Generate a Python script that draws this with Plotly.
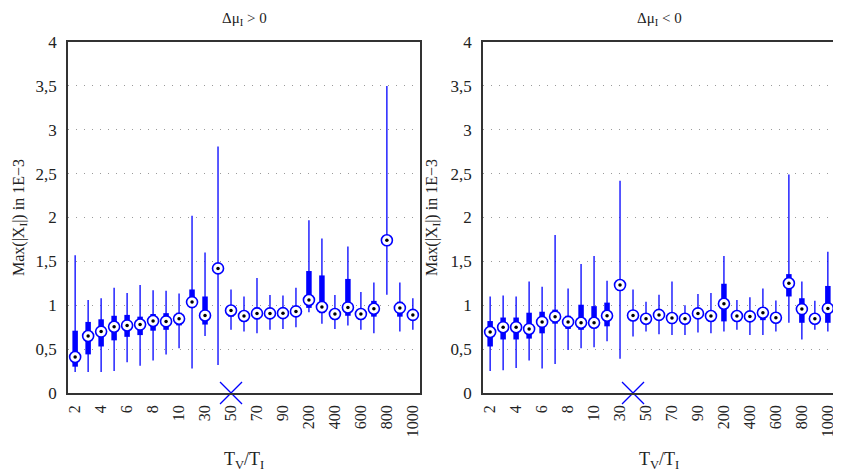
import plotly.graph_objects as go

categories = [2, 3, 4, 5, 6, 7, 8, 9, 10, 20, 30, 40, 50, 60, 70, 80, 90, 100,
              200, 300, 400, 500, 600, 700, 800, 900, 1000]
tick_labels = ["2", "4", "6", "8", "10", "30", "50", "70", "90", "200", "400", "600", "800", "1000"]

# Left panel (Δμ_I > 0)
pos_whisk_lo = [0.24, 0.24, 0.24, 0.25, 0.35, 0.31, 0.37, 0.44, 0.51, 0.28, 0.65, 0.32, 0.72, 0.70,
                0.68, 0.72, 0.73, 0.75, 0.92, 0.79, 0.73, 0.77, 0.72, 0.68, 1.12, 0.70, 0.72]
pos_q1 = [0.30, 0.44, 0.53, 0.60, 0.64, 0.66, 0.71, 0.72, 0.77, 0.99, 0.78, 1.39, 0.87, 0.85,
          0.84, 0.88, 0.88, 0.90, 0.97, 0.91, 0.87, 0.88, 0.87, 0.87, 1.69, 0.87, 0.86]
pos_median = [0.41, 0.65, 0.70, 0.755, 0.77, 0.78, 0.82, 0.816, 0.846, 1.036, 0.884, 1.42, 0.94, 0.877,
              0.907, 0.907, 0.91, 0.93, 1.06, 0.98, 0.90, 0.975, 0.90, 0.96, 1.74, 0.97, 0.89]
pos_q3 = [0.71, 0.81, 0.84, 0.88, 0.89, 0.87, 0.90, 0.91, 0.915, 1.18, 1.10, 1.45, 0.97, 0.90,
          0.975, 0.93, 0.94, 0.96, 1.39, 1.34, 0.93, 1.30, 0.93, 1.05, 1.78, 1.04, 0.92]
pos_whisk_hi = [1.57, 1.06, 1.08, 1.20, 1.14, 1.23, 1.17, 1.165, 1.135, 2.02, 1.60, 2.81, 1.18, 1.10,
                1.31, 1.116, 1.11, 1.20, 1.97, 1.76, 1.116, 1.67, 1.15, 1.26, 3.50, 1.26, 1.08]

# Right panel (Δμ_I < 0)
neg_whisk_lo = [0.25, 0.26, 0.285, 0.37, 0.28, 0.33, 0.49, 0.51, 0.52, 0.59, 0.39, 0.645, 0.70, 0.67,
                0.66, 0.66, 0.69, 0.68, 0.70, 0.72, 0.66, 0.66, 0.70, 0.80, 0.61, 0.72, 0.70]
neg_q1 = [0.53, 0.61, 0.61, 0.62, 0.68, 0.79, 0.73, 0.72, 0.74, 0.76, 1.20, 0.86, 0.82, 0.86,
          0.80, 0.82, 0.85, 0.85, 0.816, 0.85, 0.84, 0.83, 0.83, 1.10, 0.80, 0.82, 0.80]
neg_median = [0.695, 0.75, 0.75, 0.73, 0.81, 0.87, 0.81, 0.80, 0.80, 0.88, 1.23, 0.884, 0.846, 0.89,
              0.854, 0.846, 0.907, 0.877, 1.017, 0.877, 0.873, 0.915, 0.858, 1.25, 0.956, 0.846, 0.964]
neg_q3 = [0.82, 0.86, 0.86, 0.915, 0.926, 0.95, 0.88, 1.006, 0.99, 1.03, 1.25, 0.91, 0.87, 0.91,
          0.91, 0.87, 0.93, 0.90, 1.245, 0.90, 0.90, 0.98, 0.88, 1.355, 1.08, 0.87, 1.22]
neg_whisk_hi = [1.10, 1.11, 1.10, 1.27, 1.21, 1.80, 1.19, 1.47, 1.56, 1.28, 2.42, 1.18, 1.04, 1.12,
                1.27, 1.00, 1.127, 1.14, 1.56, 1.06, 1.09, 1.19, 1.055, 2.49, 1.27, 1.05, 1.61]

pos_marker_cat = 50
neg_marker_cat = 40

BLUE = "#0000ff"
positions = list(range(1, len(categories) + 1))
tickvals = [positions[categories.index(int(t))] for t in tick_labels]

fig = go.Figure()


def add_panel(xa, ya, lo, q1, med, q3, hi, mark_cat):
    wx, wy, bx, by = [], [], [], []
    for p, a, b, c, d in zip(positions, lo, q1, q3, hi):
        wx += [p, p, None]
        wy += [a, d, None]
        bx += [p, p, None]
        by += [b, c, None]
    fig.add_trace(go.Scatter(x=wx, y=wy, mode="lines", line=dict(color=BLUE, width=1.3),
                             xaxis=xa, yaxis=ya, showlegend=False, hoverinfo="skip"))
    fig.add_trace(go.Scatter(x=bx, y=by, mode="lines", line=dict(color=BLUE, width=5.5),
                             xaxis=xa, yaxis=ya, showlegend=False, hoverinfo="skip"))
    fig.add_trace(go.Scatter(x=positions, y=med, mode="markers",
                             marker=dict(symbol="circle", size=11, color="white",
                                         line=dict(color=BLUE, width=1.6)),
                             xaxis=xa, yaxis=ya, showlegend=False))
    fig.add_trace(go.Scatter(x=positions, y=med, mode="markers",
                             marker=dict(symbol="circle", size=3.5, color="black"),
                             xaxis=xa, yaxis=ya, showlegend=False, hoverinfo="skip"))
    fig.add_trace(go.Scatter(x=[positions[categories.index(mark_cat)]], y=[0], mode="markers",
                             marker=dict(symbol="x-thin", size=22, color=BLUE,
                                         line=dict(color=BLUE, width=1.3)),
                             xaxis=xa, yaxis=ya, showlegend=False, cliponaxis=False))


add_panel("x", "y", pos_whisk_lo, pos_q1, pos_median, pos_q3, pos_whisk_hi, pos_marker_cat)
add_panel("x2", "y2", neg_whisk_lo, neg_q1, neg_median, neg_q3, neg_whisk_hi, neg_marker_cat)

# page body has an 8px margin; lay out in screen coords shifted by it
OFF = 8
W, H = 841 - OFF, 474 - OFF


def px(x):
    return (x - OFF) / W


def py(y):
    return 1 - (y - OFF) / H


SERIF = "Liberation Serif"
font = dict(family=SERIF, color="#222", size=16)

xcommon = dict(range=[0.45, 27.55], tickvals=tickvals, ticktext=tick_labels, tickangle=-90,
               showgrid=False, zeroline=False, showline=True, mirror=True, linecolor="#333",
               linewidth=1.5, ticks="", tickfont=dict(family=SERIF, size=16, color="#222"),
               automargin=False, ticklabelstandoff=4)
ycommon = dict(range=[0, 4], tickvals=[0, 0.5, 1, 1.5, 2, 2.5, 3, 3.5, 4],
               ticktext=["0", "0,5", "1", "1,5", "2", "2,5", "3", "3,5", "4"],
               showgrid=True, gridcolor="#9a9a9a", griddash="1px,7px", gridwidth=1,
               zeroline=False, showline=True, mirror=True, linecolor="#333", linewidth=1.5,
               ticks="", tickfont=dict(family=SERIF, size=17, color="#222"), automargin=False,
               ticklabelstandoff=6)

fig.update_layout(
    template="none",
    width=W, height=H, margin=dict(l=0, r=0, t=0, b=0, autoexpand=False),
    paper_bgcolor="white", plot_bgcolor="white", font=font, showlegend=False,
    xaxis=dict(xcommon, domain=[px(68), px(420)], anchor="y"),
    yaxis=dict(ycommon, domain=[py(393), py(42)], anchor="x"),
    xaxis2=dict(xcommon, domain=[px(483), px(835)], anchor="y2"),
    yaxis2=dict(ycommon, domain=[py(393), py(42)], anchor="x2"),
)

ann = []
common_ann = dict(xref="paper", yref="paper", showarrow=False, xanchor="center", yanchor="middle")
for cx in [(68 + 420) / 2, (483 + 835) / 2]:
    ann.append(dict(common_ann, x=px(cx), y=py(460),
                    text="T<sub>V</sub>/T<sub>I</sub>",
                    font=dict(family=SERIF, size=18, color="#222")))
ann.append(dict(common_ann, x=px((68 + 420) / 2), y=py(19),
                text="Δμ<sub>I</sub> > 0",
                font=dict(family=SERIF, size=15, color="#222")))
ann.append(dict(common_ann, x=px((483 + 835) / 2), y=py(19),
                text="Δμ<sub>I</sub> < 0",
                font=dict(family=SERIF, size=15, color="#222")))
for cx in [19, 432]:
    ann.append(dict(common_ann, x=px(cx), y=py(218), textangle=-90,
                    text="Max(|X<sub>I</sub>|) in 1E−3",
                    font=dict(family=SERIF, size=16, color="#222")))
fig.update_layout(annotations=ann)

fig.write_html("out.html")
